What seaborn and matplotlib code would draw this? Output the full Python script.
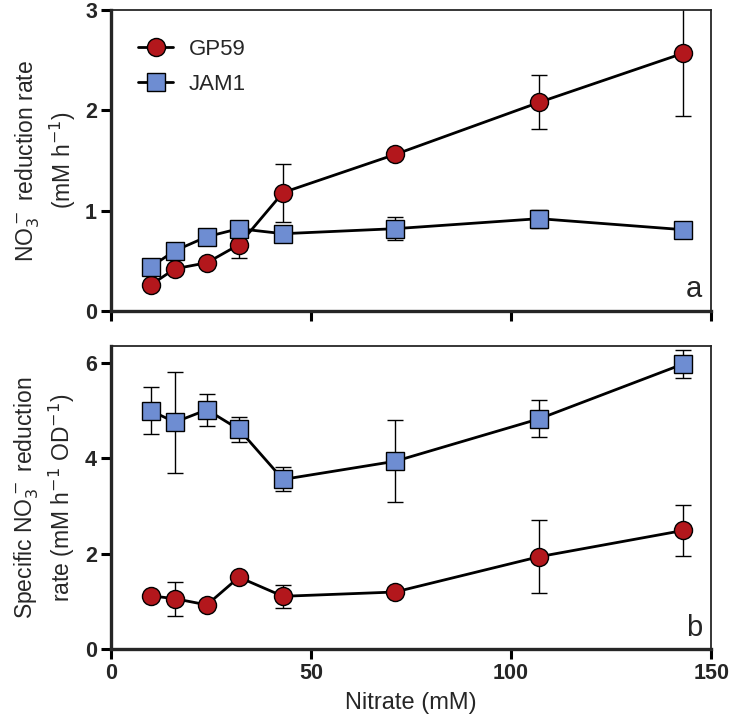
import numpy as np
import pandas as pd
import matplotlib
matplotlib.use("Agg")
import matplotlib.pyplot as plt
import seaborn as sns
from matplotlib.lines import Line2D
from matplotlib.font_manager import FontProperties

# Nitrate concentrations (mM)
nitrate = [10, 16, 24, 32, 43, 71, 107, 143]

# Panel a: NO3- reduction rate (mM h-1)
gp59_rate = [0.26, 0.42, 0.48, 0.66, 1.18, 1.56, 2.08, 2.57]
gp59_rate_err = [0.02, 0.03, 0.03, 0.13, 0.29, 0.03, 0.27, 0.63]
jam1_rate = [0.44, 0.60, 0.74, 0.82, 0.77, 0.82, 0.92, 0.81]
jam1_rate_err = [0.02, 0.02, 0.03, 0.03, 0.03, 0.115, 0.09, 0.02]

# Panel b: specific NO3- reduction rate (mM h-1 OD-1)
gp59_spec = [1.12, 1.06, 0.93, 1.51, 1.11, 1.20, 1.94, 2.49]
gp59_spec_err = [0.05, 0.36, 0.04, 0.05, 0.24, 0.04, 0.76, 0.53]
jam1_spec = [5.00, 4.76, 5.02, 4.61, 3.56, 3.94, 4.83, 5.98]
jam1_spec_err = [0.49, 1.06, 0.34, 0.26, 0.25, 0.86, 0.39, 0.30]

strains = ["GP59", "JAM1"]
colors = {"GP59": "#B3171C", "JAM1": "#6E8DD2"}
markers = {"GP59": "o", "JAM1": "s"}

df_a = pd.DataFrame({
    "nitrate": nitrate * 2,
    "value": gp59_rate + jam1_rate,
    "err": gp59_rate_err + jam1_rate_err,
    "strain": ["GP59"] * 8 + ["JAM1"] * 8,
})
df_b = pd.DataFrame({
    "nitrate": nitrate * 2,
    "value": gp59_spec + jam1_spec,
    "err": gp59_spec_err + jam1_spec_err,
    "strain": ["GP59"] * 8 + ["JAM1"] * 8,
})

sns.set_style("ticks")
plt.rcParams['font.family'] = ['Liberation Sans', 'DejaVu Sans']

fig = plt.figure(figsize=(7.34, 7.23), dpi=100)
ax1 = fig.add_axes([0.151, 0.570, 0.818, 0.416])
ax2 = fig.add_axes([0.151, 0.102, 0.818, 0.419])

narrow = ['Liberation Sans Narrow', 'Liberation Sans', 'DejaVu Sans']
tick_fp = FontProperties(family=narrow, weight='bold', size=15.5)


def draw_panel(ax, df, ylim, yticks, letter):
    for s in strains:
        d = df[df["strain"] == s]
        ax.errorbar(d["nitrate"], d["value"], yerr=d["err"], fmt="none",
                    ecolor="black", elinewidth=1.0, capsize=6, capthick=1.0,
                    zorder=1)
        sns.lineplot(data=d, x="nitrate", y="value", ax=ax, color="black",
                     marker=markers[s], markersize=13,
                     markerfacecolor=colors[s], markeredgecolor="black",
                     markeredgewidth=1.0, linewidth=2.0, zorder=3)
    ax.set_xlim(0, 150)
    ax.set_ylim(*ylim)
    ax.set_yticks(yticks)
    ax.set_xticks([0, 50, 100, 150])
    for side in ["left", "bottom"]:
        ax.spines[side].set_linewidth(2.4)
    for side in ["top", "right"]:
        ax.spines[side].set_linewidth(1.3)
    ax.tick_params(axis="both", direction="out", length=7, width=2.2,
                   color="black", pad=3)
    for lab in ax.get_yticklabels() + ax.get_xticklabels():
        lab.set_fontproperties(tick_fp)
    ax.text(0.985, 0.025, letter, transform=ax.transAxes, fontsize=21,
            ha="right", va="bottom")
    ax.set_xlabel("")


draw_panel(ax1, df_a, (0, 3), [0, 1, 2, 3], "a")
draw_panel(ax2, df_b, (0, 6.35), [0, 2, 4, 6], "b")

ax1.set_xticklabels([])
ax1.set_ylabel("NO$_3^-$ reduction rate\n(mM h$^{-1}$)", fontsize=16.5,
               labelpad=5, linespacing=1.25)
ax2.set_ylabel("Specific NO$_3^-$ reduction\nrate (mM h$^{-1}$ OD$^{-1}$)",
               fontsize=16.5, labelpad=6, linespacing=1.25)
ax2.set_xlabel("Nitrate (mM)", fontsize=17, labelpad=6, family=narrow)

# legend
handles = [Line2D([], [], color="black", linewidth=2.0, marker=markers[s],
                  markersize=13, markerfacecolor=colors[s],
                  markeredgecolor="black", markeredgewidth=1.0) for s in strains]
ax1.legend(handles, strains, loc="upper left", bbox_to_anchor=(0.045, 0.905),
           frameon=False, fontsize=16, handlelength=1.6, labelspacing=0.65,
           handletextpad=0.7, borderpad=0, borderaxespad=0)

fig.savefig("out.png", dpi=100)
